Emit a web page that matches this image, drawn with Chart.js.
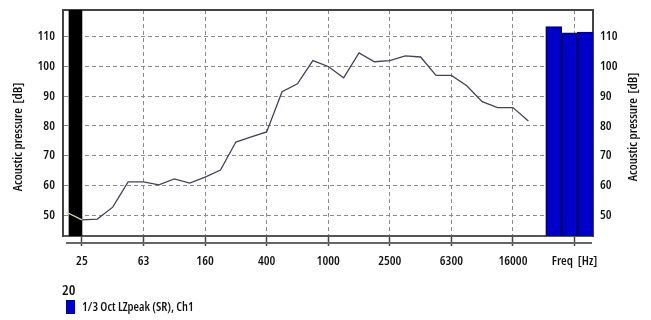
<!DOCTYPE html>
<html>
<head>
<meta charset="utf-8">
<script src="https://cdn.jsdelivr.net/npm/chart.js@4.4.1/dist/chart.umd.min.js"></script>
<style>
  body { margin: 0; background: #fff; }
  #wrap { position: relative; width: 651px; height: 320px; }
  #leg { position: absolute; left: 62px; top: 281px; font-family: 'Open Sans', sans-serif; font-stretch: condensed; font-weight: 600; color: #111; }
  #leg .ttl { font-size: 15px; line-height: 17px; }
  #leg .row { display: flex; align-items: center; margin-top: 1px; font-size: 12.5px; line-height: 15px; }
  #leg .sw { width: 7px; height: 12px; background: #0000cc; border: 1px solid #000090; margin: 0 7px 0 4px; }
</style>
</head>
<body>
<div id="wrap">
  <canvas id="canvas-1" width="651" height="320"></canvas>
  <div id="leg">
    <div class="ttl">20</div>
    <div class="row"><span class="sw"></span><span>1/3 Oct LZpeak (SR), Ch1</span></div>
  </div>
</div>
<script>
'use strict';

// 1/3 octave bands, 20 Hz .. 20 kHz
var bandLabels = ['20','25','31.5','40','50','63','80','100','125','160','200','250','315','400','500',
  '630','800','1000','1250','1600','2000','2500','3150','4000','5000','6300','8000','10000','12500','16000','20000'];
var lzpeak = [51, 48.4, 48.7, 52.7, 61.2, 61.2, 60.2, 62.2, 60.8, 62.8, 65.2, 74.6, 76.3, 78, 91.5,
  94.2, 102, 100, 96.2, 104.6, 101.6, 102, 103.6, 103.2, 97, 97, 93.5, 88.2, 86.2, 86.2, 81.7];

// overall level bars on the right (band position, dB)
var overallPos = [31.65, 32.68, 33.7];
var overallValues = [113.4, 111.3, 111.6];

// cursor bar on the left
var cursorPos = [0.58];
var cursorValues = [119];

var xTickPos = [1, 5, 9, 13, 17, 21, 25, 29, 33];
var xTickLabels = ['25', '63', '160', '400', '1000', '2500', '6300', '16000', 'Freq  [Hz]'];
var yTicks = [50, 60, 70, 80, 90, 100, 110];

var FONT = "'Open Sans', sans-serif";

var framePlugin = {
  id: 'frame',
  beforeDatasetsDraw: function (chart) {
    var a = chart.chartArea, ctx = chart.ctx;
    ctx.save();
    ctx.strokeStyle = '#444';
    ctx.lineWidth = 2;
    ctx.beginPath();
    ctx.moveTo(a.left, a.top);
    ctx.lineTo(a.right, a.top);
    ctx.stroke();
    ctx.restore();
  },
  afterDraw: function (chart) {
    var a = chart.chartArea, ctx = chart.ctx;
    ctx.save();
    ctx.strokeStyle = '#666';
    ctx.lineWidth = 2;
    ctx.beginPath();
    ctx.moveTo(a.left + 3, a.bottom + 7);
    ctx.lineTo(a.right - 1, a.bottom + 7);
    ctx.stroke();
    ctx.restore();
    // axis titles, both reading upward
    [[18, 137], [633, 127]].forEach(function (p) {
      ctx.save();
      ctx.fillStyle = '#111';
      ctx.font = '600 condensed 13px ' + FONT;
      ctx.textAlign = 'center';
      ctx.textBaseline = 'middle';
      ctx.translate(p[0], p[1]);
      ctx.rotate(-Math.PI / 2);
      ctx.fillText('Acoustic pressure  [dB]', 0, 0);
      ctx.restore();
    });
  }
};

var lineData = lzpeak.map(function (v, i) { return {x: i, y: v}; });
var overallData = overallValues.map(function (v, i) { return {x: overallPos[i], y: v}; });
var cursorData = cursorValues.map(function (v, i) { return {x: cursorPos[i], y: v}; });

var tickFont = { family: FONT, size: 13, weight: '600 condensed' };

function noPad(s) { s.paddingTop = 0; s.paddingBottom = 0; }

var ctx = document.getElementById('canvas-1');
var chart = new Chart(ctx, {
  type: 'line',
  data: {
    datasets: [
      {
        label: '1/3 Oct LZpeak (SR), Ch1',
        data: lineData,
        borderColor: '#434357',
        borderWidth: 1.3,
        pointRadius: 0,
        tension: 0,
        order: 0,
        segment: {
          borderColor: function (c) { return c.p0DataIndex === 0 ? '#d8d8b0' : undefined; }
        }
      },
      {
        type: 'bar',
        label: 'Overall',
        data: overallData,
        backgroundColor: '#0000c8',
        borderColor: '#00008c',
        borderWidth: 2,
        barThickness: 16,
        grouped: false,
        order: 1
      },
      {
        type: 'bar',
        label: 'Cursor',
        data: cursorData,
        backgroundColor: '#000',
        borderWidth: 0,
        barThickness: 13,
        grouped: false,
        order: 1
      }
    ]
  },
  plugins: [framePlugin],
  options: {
    responsive: false,
    animation: false,
    devicePixelRatio: 1,
    layout: { padding: { top: 10, left: 0, right: 0, bottom: 0 } },
    plugins: {
      legend: { display: false },
      tooltip: { enabled: false }
    },
    scales: {
      x: {
        type: 'linear',
        min: -0.23,
        max: 34.2,
        offset: false,
        afterFit: function (s) { s.height = 84; s.paddingLeft = 0; s.paddingRight = 0; },
        afterBuildTicks: function (s) { s.ticks = xTickPos.map(function (v) { return {value: v}; }); },
        grid: { color: '#8a8a8a', lineWidth: 1, offset: false, tickLength: 10, tickColor: '#444', tickWidth: 1.5 },
        border: { color: '#555', width: 2, dash: [4, 3] },
        ticks: {
          autoSkip: false,
          maxRotation: 0,
          padding: 7,
          color: '#111',
          font: tickFont,
          callback: function (v) { return xTickLabels[xTickPos.indexOf(v)]; }
        }
      },
      y: {
        position: 'left',
        min: 43,
        max: 119,
        afterFit: function (s) { s.width = 63; noPad(s); },
        afterBuildTicks: function (s) { s.ticks = yTicks.map(function (v) { return {value: v}; }); },
        grid: { color: '#8a8a8a', lineWidth: 1, drawTicks: false },
        border: { color: '#444', width: 2, dash: [4, 3] },
        ticks: { padding: 8, color: '#111', font: tickFont }
      },
      y2: {
        position: 'right',
        min: 43,
        max: 119,
        afterFit: function (s) { s.width = 58; noPad(s); },
        afterBuildTicks: function (s) { s.ticks = yTicks.map(function (v) { return {value: v}; }); },
        grid: { drawOnChartArea: false, drawTicks: false },
        border: { color: '#444', width: 2 },
        ticks: { padding: 7, color: '#111', font: tickFont }
      }
    }
  }
});
</script>
</body>
</html>
